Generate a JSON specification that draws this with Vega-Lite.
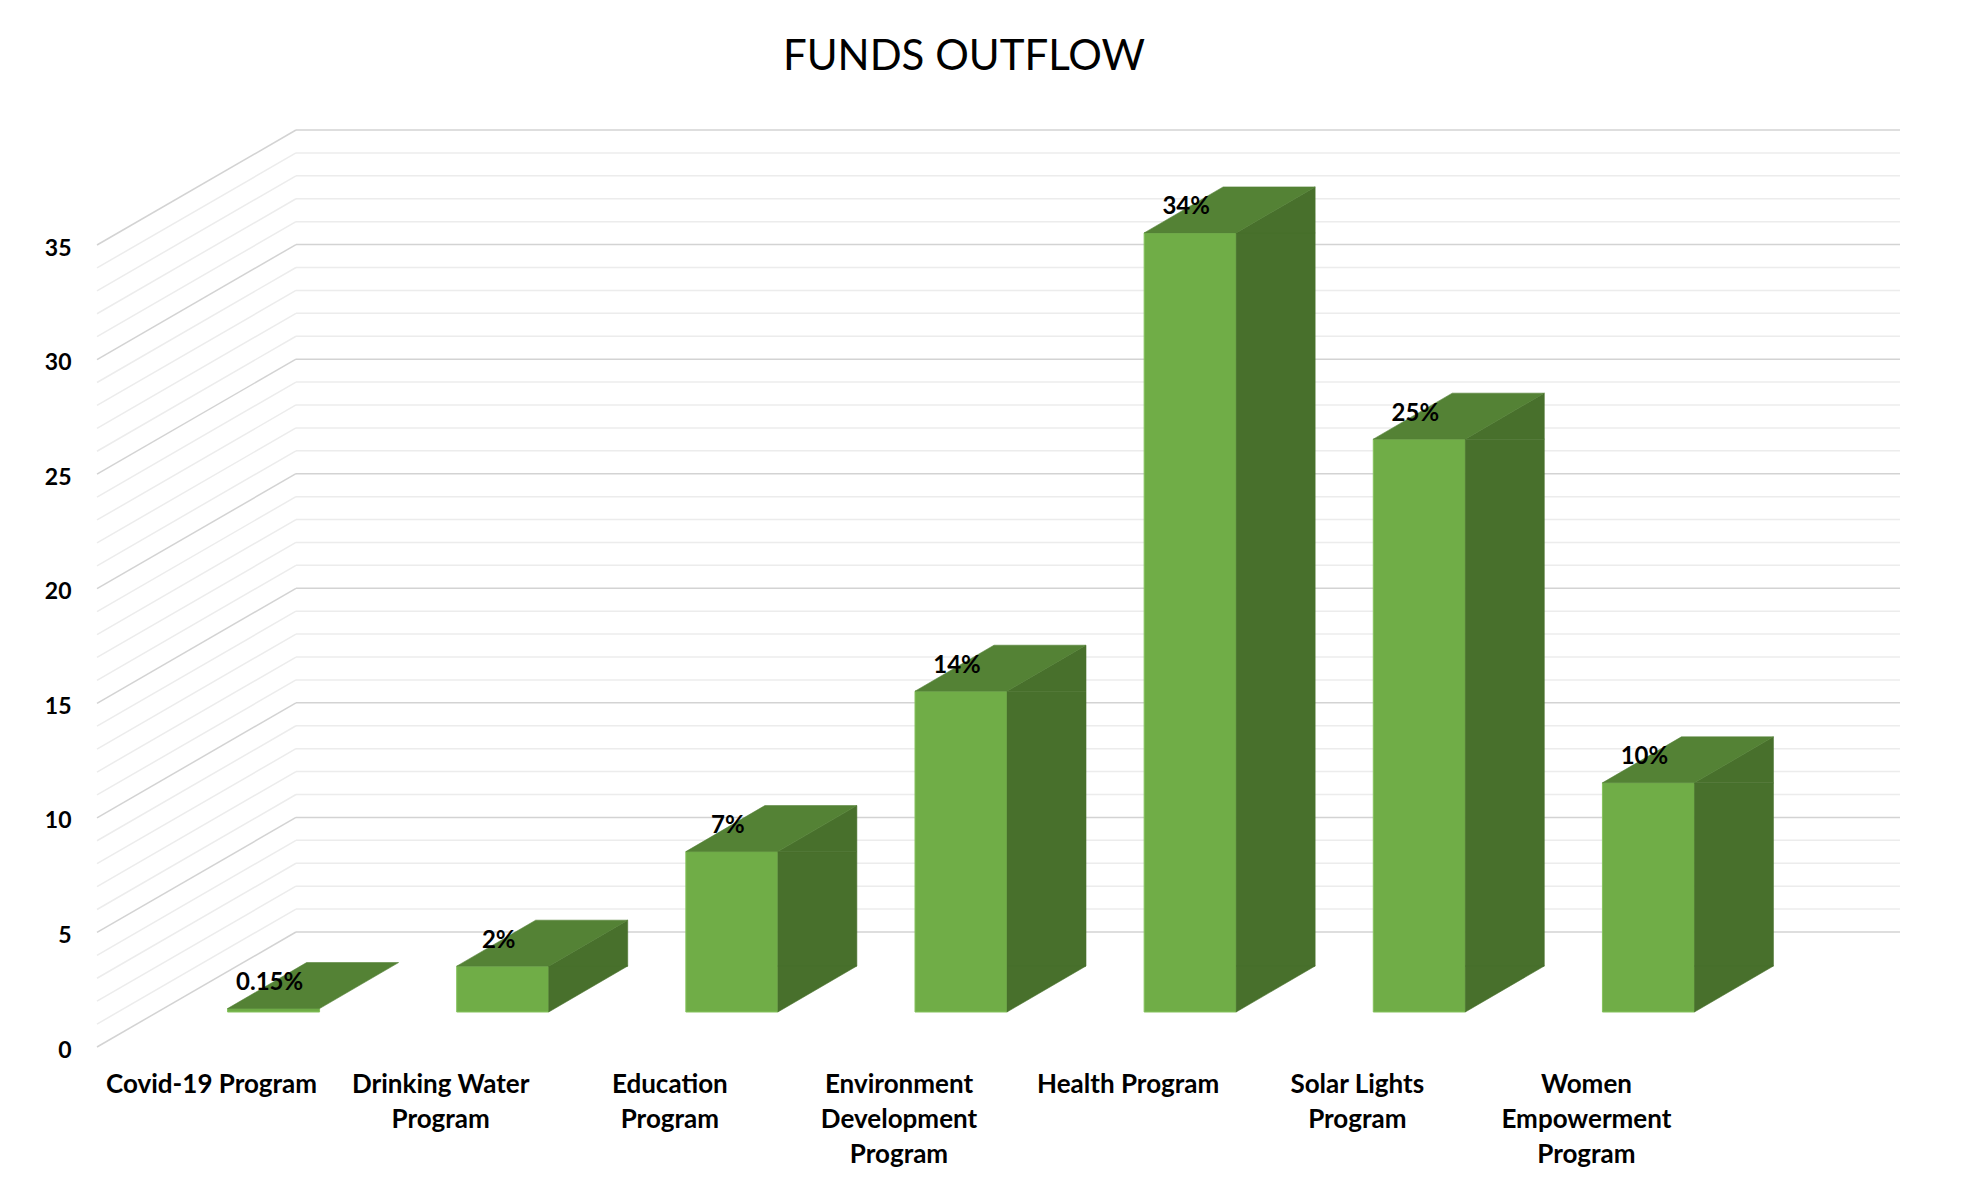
{
  "$schema": "https://vega.github.io/schema/vega-lite/v6.json",
  "width": 1604,
  "height": 802,
  "autosize": {"type": "none"},
  "padding": {"left": 296, "top": 130, "right": 62, "bottom": 258},
  "background": "white",
  "title": {
    "text": "FUNDS OUTFLOW",
    "font": "Lato",
    "fontSize": 42,
    "fontWeight": "normal",
    "color": "black",
    "anchor": "middle",
    "frame": "group",
    "dx": -134,
    "offset": 50
  },
  "config": {
    "view": {"stroke": null},
    "font": "Lato"
  },
  "datasets": {
    "funds": [
      {"program": "Covid-19 Program", "value": 0.15, "label": "0.15%"},
      {"program": "Drinking Water Program", "value": 2, "label": "2%"},
      {"program": "Education Program", "value": 7, "label": "7%"},
      {"program": "Environment Development Program", "value": 14, "label": "14%"},
      {"program": "Health Program", "value": 34, "label": "34%"},
      {"program": "Solar Lights Program", "value": 25, "label": "25%"},
      {"program": "Women Empowerment Program", "value": 10, "label": "10%"}
    ],
    "levels": [
      {"level": 0}, {"level": 1}, {"level": 2}, {"level": 3}, {"level": 4}, {"level": 5},
      {"level": 6}, {"level": 7}, {"level": 8}, {"level": 9}, {"level": 10}, {"level": 11},
      {"level": 12}, {"level": 13}, {"level": 14}, {"level": 15}, {"level": 16}, {"level": 17},
      {"level": 18}, {"level": 19}, {"level": 20}, {"level": 21}, {"level": 22}, {"level": 23},
      {"level": 24}, {"level": 25}, {"level": 26}, {"level": 27}, {"level": 28}, {"level": 29},
      {"level": 30}, {"level": 31}, {"level": 32}, {"level": 33}, {"level": 34}, {"level": 35}
    ]
  },
  "data": {"name": "funds"},
  "layer": [
    {
      "data": {"name": "levels"},
      "mark": {"type": "rule", "strokeWidth": 1.5},
      "encoding": {
        "x": {"datum": "Covid-19 Program", "type": "nominal", "bandPosition": 0},
        "x2": {"datum": "Women Empowerment Program", "bandPosition": 1},
        "y": {"field": "level", "type": "quantitative"},
        "y2": {"field": "level"},
        "color": {"condition": {"test": "datum.level % 5 === 0", "value": "#d3d3d3"}, "value": "#ececec"}
      }
    },
    {
      "data": {"name": "levels"},
      "mark": {"type": "rule", "x2Offset": -199, "y2Offset": 115, "strokeWidth": 1.5},
      "encoding": {
        "x": {"datum": "Covid-19 Program", "type": "nominal", "bandPosition": 0},
        "x2": {"datum": "Covid-19 Program", "bandPosition": 0},
        "y": {"field": "level", "type": "quantitative"},
        "y2": {"field": "level"},
        "color": {"condition": {"test": "datum.level % 5 === 0", "value": "#d3d3d3"}, "value": "#ececec"}
      }
    },
    {
      "mark": {"type": "bar", "color": "#70ad47", "stroke": "#85c25c", "strokeWidth": 1, "width": 92, "xOffset": -137, "yOffset": 80, "y2Offset": 80},
      "encoding": {
        "x": {
          "field": "program",
          "type": "nominal",
          "sort": null,
          "scale": {
            "domain": ["Covid-19 Program", "Drinking Water Program", "Education Program", "Environment Development Program", "Health Program", "Solar Lights Program", "Women Empowerment Program"],
            "paddingInner": 0,
            "paddingOuter": 0
          },
          "axis": {
            "title": null,
            "labelAngle": 0,
            "labelAlign": "center",
            "labelBaseline": "top",
            "labelOffset": -199,
            "offset": 139,
            "domain": false,
            "ticks": false,
            "grid": false,
            "labelPadding": 0,
            "labelFont": "Lato",
            "labelFontWeight": "bold",
            "labelFontSize": 26,
            "labelColor": "black",
            "labelLineHeight": 35,
            "labelLimit": 0,
            "labelExpr": "datum.value === 'Drinking Water Program' ? ['Drinking Water', 'Program'] : datum.value === 'Education Program' ? ['Education', 'Program'] : datum.value === 'Environment Development Program' ? ['Environment', 'Development', 'Program'] : datum.value === 'Solar Lights Program' ? ['Solar Lights', 'Program'] : datum.value === 'Women Empowerment Program' ? ['Women', 'Empowerment', 'Program'] : datum.label"
          }
        },
        "y": {
          "field": "value",
          "type": "quantitative",
          "scale": {"domain": [0, 35], "nice": false, "zero": true},
          "axis": {
            "title": null,
            "values": [0, 5, 10, 15, 20, 25, 30, 35],
            "domain": false,
            "ticks": false,
            "grid": false,
            "labelAlign": "right",
            "labelBaseline": "middle",
            "labelFont": "Lato",
            "labelFontWeight": "bold",
            "labelFontSize": 23,
            "labelColor": "black",
            "labelPadding": 0,
            "labelOffset": 118,
            "offset": 225
          }
        },
        "y2": {"datum": 0}
      }
    },
    {
      "transform": [{"filter": "datum.value > 2"}],
      "mark": {"type": "bar", "color": "#48702c", "stroke": "#48702c", "strokeWidth": 0.6, "width": 79, "xOffset": -51.5, "yOffset": 80, "y2Offset": 34},
      "encoding": {
        "x": {"field": "program", "type": "nominal", "sort": null},
        "y": {"field": "value", "type": "quantitative"},
        "y2": {"datum": 0}
      }
    },
    {
      "transform": [{"filter": "datum.value >= 2"}],
      "mark": {"type": "point", "filled": true, "opacity": 1, "size": 4, "shape": "M46,0 L46,-46 L125,-46 Z", "color": "#48702c", "stroke": "#48702c", "strokeWidth": 0.6, "xOffset": -137, "yOffset": 80},
      "encoding": {
        "x": {"field": "program", "type": "nominal", "sort": null},
        "y": {"datum": 0, "type": "quantitative"}
      }
    },
    {
      "transform": [{"filter": "datum.value >= 2"}],
      "mark": {"type": "point", "filled": true, "opacity": 1, "size": 4, "shape": "M46,0 L125,-46 L125,0 Z", "color": "#48702c", "stroke": "#48702c", "strokeWidth": 0.6, "xOffset": -137, "yOffset": 80},
      "encoding": {
        "x": {"field": "program", "type": "nominal", "sort": null},
        "y": {"field": "value", "type": "quantitative"}
      }
    },
    {
      "mark": {"type": "point", "filled": true, "opacity": 1, "size": 4, "shape": "M-46,0 L46,0 L125,-46 L33,-46 Z", "color": "#548235", "stroke": "#548235", "strokeWidth": 0.6, "xOffset": -137, "yOffset": 80},
      "encoding": {
        "x": {"field": "program", "type": "nominal", "sort": null},
        "y": {"field": "value", "type": "quantitative"}
      }
    },
    {
      "mark": {"type": "text", "font": "Lato", "fontWeight": "bold", "fontSize": 24, "color": "black", "align": "center", "baseline": "alphabetic", "xOffset": -141, "yOffset": 61.5},
      "encoding": {
        "x": {"field": "program", "type": "nominal", "sort": null},
        "y": {"field": "value", "type": "quantitative"},
        "text": {"field": "label"}
      }
    }
  ]
}
